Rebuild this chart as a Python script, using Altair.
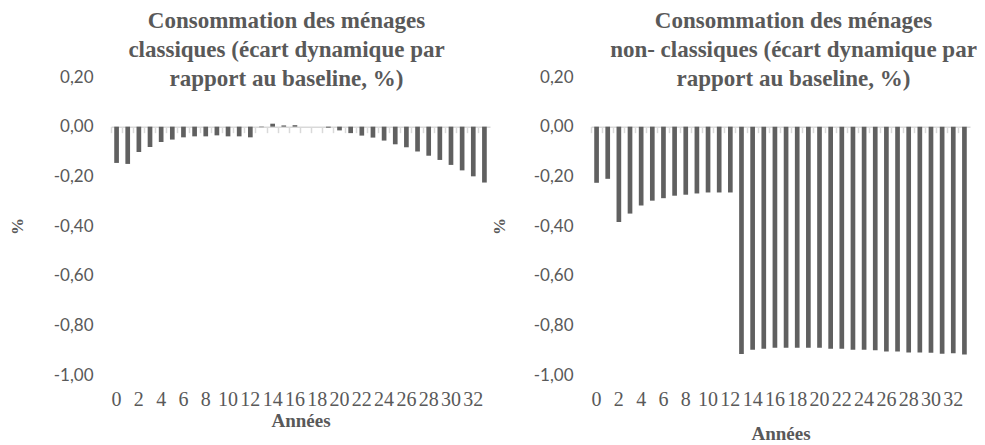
import altair as alt
import pandas as pd

annees = list(range(34))
classiques = [-0.146, -0.150, -0.102, -0.082, -0.062, -0.052, -0.043, -0.039, -0.039, -0.035,
              -0.039, -0.039, -0.043, -0.002, 0.012, 0.005, 0.006, 0.0, 0.0, -0.004,
              -0.015, -0.026, -0.036, -0.044, -0.056, -0.071, -0.083, -0.100, -0.117, -0.134,
              -0.154, -0.176, -0.200, -0.225]
non_classiques = [-0.226, -0.210, -0.384, -0.350, -0.317, -0.298, -0.288, -0.278, -0.274, -0.269,
                  -0.265, -0.265, -0.265, -0.915, -0.898, -0.894, -0.890, -0.890, -0.890, -0.890,
                  -0.890, -0.894, -0.894, -0.898, -0.898, -0.900, -0.905, -0.905, -0.909, -0.909,
                  -0.910, -0.914, -0.912, -0.917]
titre_gauche = ["Consommation des ménages", "classiques (écart dynamique par", "rapport au baseline, %)"]
titre_droite = ["Consommation des ménages", "non- classiques (écart dynamique par", "rapport au baseline, %)"]
y_ticks = [0.2, 0.0, -0.2, -0.4, -0.6, -0.8, -1.0]
x_labels = list(range(0, 34, 2))
titre_x = "Années"
titre_y = "%"

TEXT = "#595959"
BAR = "#606060"
LINE = "#d9d9d9"
SERIF = "'Liberation Serif', 'DejaVu Serif', serif"
SANS = "Lato, 'Open Sans', sans-serif"
W, H = 379, 298
Y_MIN, Y_MAX = -1.0, 0.2
zero_from_bottom = H * (0 - Y_MIN) / (Y_MAX - Y_MIN)

LABEL_EXPR = "(datum.value < -0.0001 ? '-' : '') + replace(format(abs(datum.value), '.2f'), '.', ',')"


def y_enc(ytitle_pad):
    return alt.Y("valeur:Q",
                 scale=alt.Scale(domain=[Y_MIN, Y_MAX], nice=False, zero=False),
                 axis=alt.Axis(values=y_ticks, labelExpr=LABEL_EXPR,
                               domain=False, ticks=False, grid=False,
                               labelFont=SANS, labelFontSize=17, labelColor=TEXT, labelPadding=18,
                               title=titre_y, titleFont=SERIF, titleFontSize=17,
                               titleFontWeight="bold", titleColor=TEXT, titlePadding=ytitle_pad))


def panel(values, title_lines, title_dx, ytitle_pad, xtitle_pad):
    df = pd.DataFrame({"annee": annees, "valeur": values})
    bars = alt.Chart(df).mark_bar(color=BAR).encode(
        x=alt.X("annee:O", sort=annees,
                scale=alt.Scale(paddingInner=0.58, paddingOuter=0.29),
                axis=alt.Axis(orient="bottom", values=x_labels, labelAngle=0, labelOverlap=False,
                              domain=False, ticks=False, grid=False,
                              labelFont=SERIF, labelFontSize=20, labelColor=TEXT, labelPadding=14,
                              title=titre_x, titleFont=SERIF, titleFontSize=19,
                              titleFontWeight="bold", titleColor=TEXT, titlePadding=xtitle_pad)),
        y=y_enc(ytitle_pad),
    )
    ticks = alt.Chart(df).mark_bar(opacity=0).encode(
        x=alt.X("annee:O", sort=annees,
                scale=alt.Scale(paddingInner=0, paddingOuter=0),
                axis=alt.Axis(orient="bottom", offset=-zero_from_bottom, labels=False, title=None,
                              domain=True, domainColor=LINE, domainWidth=1.5,
                              ticks=True, tickColor=LINE, tickWidth=1.5, tickSize=6,
                              bandPosition=0, grid=False, zindex=0)),
        y=y_enc(ytitle_pad),
    )
    return alt.layer(ticks, bars).resolve_scale(x="independent").properties(
        width=W, height=H,
        title=alt.TitleParams(text=title_lines, font=SERIF, fontSize=23, fontWeight="bold",
                              color=TEXT, lineHeight=29, anchor="middle", frame="group",
                              dx=title_dx, offset=-23),
    )


left = panel(classiques, titre_gauche, -14, 27, 2)
right = panel(non_classiques, titre_droite, 13, 25, 15)

chart = alt.hconcat(left, right, spacing=0).properties(
    padding={"left": 0, "top": 2, "right": 0, "bottom": 0}
).configure_view(stroke=None)

chart.save("out.html", embed_options={"renderer": "svg", "actions": False})
